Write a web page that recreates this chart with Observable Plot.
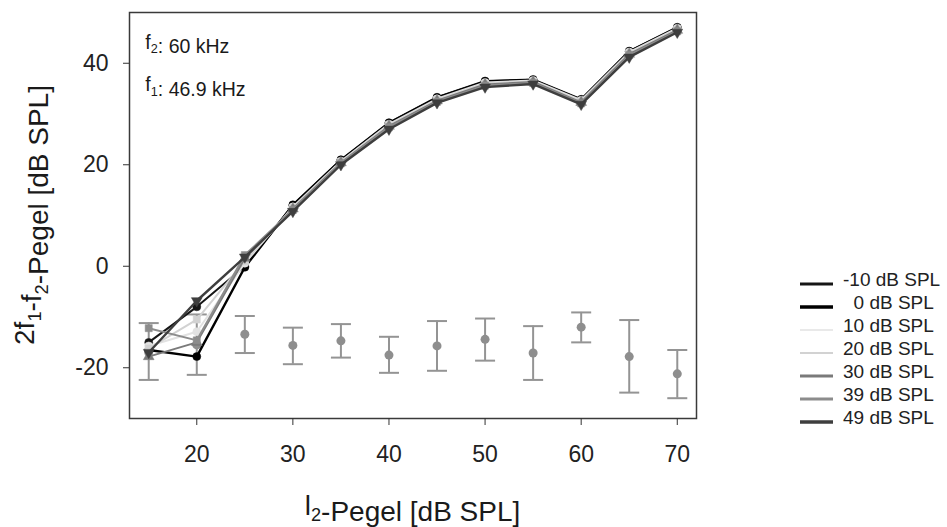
<!DOCTYPE html>
<html>
<head>
<meta charset="utf-8">
<script src="https://cdn.jsdelivr.net/npm/d3@7"></script>
<script src="https://cdn.jsdelivr.net/npm/@observablehq/plot@0.6"></script>
<style>
  html, body { margin: 0; padding: 0; background: #fff; }
  #wrap { position: relative; width: 947px; height: 527px; font-family: "Liberation Sans", Arial, sans-serif; }
  #legend { position: absolute; left: 800px; top: 268px; font-size: 19px; color: #222; }
  .row { position: relative; height: 23px; }
  .row svg { position: absolute; left: 0; top: 13px; }
  .row span { position: absolute; left: 43px; top: 1px; white-space: pre; }
</style>
</head>
<body>
<div id="wrap"></div>
<script>
// L2 levels (x)
const levels = [15, 20, 25, 30, 35, 40, 45, 50, 55, 60, 65, 70];
const xTicks = [20, 30, 40, 50, 60, 70];
const yTicks = [-20, 0, 20, 40];

// Series names (L1 offsets) and styles
const seriesLabels = ["-10 dB SPL", "\u20070 dB SPL", "10 dB SPL", "20 dB SPL", "30 dB SPL", "39 dB SPL", "49 dB SPL"];
const seriesColors = ["#161616", "#000000", "#e2e2e2", "#d2d2d2", "#7a7a7a", "#8c8c8c", "#3e3e3e"];

// DPOAE levels per series
const sM10 = [-15.0, -8.0, 0.0, 12.1, 21.0, 28.3, 33.3, 36.5, 36.8, 32.9, 42.4, 47.1];
const s0   = [-16.5, -17.8, -0.2, 12.0, 20.9, 28.2, 33.2, 36.4, 36.7, 32.8, 42.3, 47.0];
const s10  = [-15.7, -12.9, 0.6, 11.7, 20.7, 28.0, 33.0, 36.2, 36.6, 32.7, 42.2, 46.9];
const s20  = [-16.2, -10.5, 1.0, 11.5, 20.6, 27.8, 32.8, 36.0, 36.4, 32.5, 42.0, 46.7];
const s30  = [-17.8, -15.0, 1.6, 11.3, 20.4, 27.6, 32.6, 35.8, 36.3, 32.3, 41.8, 46.5];
const s39  = [-12.2, -14.6, 2.2, 11.1, 20.3, 27.4, 32.4, 35.6, 36.1, 32.1, 41.6, 46.3];
const s49  = [-17.0, -6.8, 1.8, 10.8, 20.0, 27.0, 32.2, 35.3, 35.9, 31.9, 41.2, 46.1];

// Noise floor mean and error range
const noiseMean = [-17.0, -15.5, -13.4, -15.6, -14.7, -17.5, -15.7, -14.4, -17.1, -12.0, -17.8, -21.2];
const noiseLow  = [-22.4, -21.4, -17.1, -19.3, -18.0, -21.0, -20.6, -18.6, -22.4, -15.0, -24.9, -26.0];
const noiseHigh = [-11.2, -9.5, -9.8, -12.1, -11.4, -13.9, -10.8, -10.3, -11.8, -9.1, -10.6, -16.5];

const seriesValues = [sM10, s0, s10, s20, s30, s39, s49];
const symbols = ["circle", "circle", "circle", "square", "triangle", "square", "triangle"];
const rotations = [0, 0, 0, 0, 0, 0, 180];
const widths = [2, 2.4, 2, 2, 2, 2, 2.4];
const legendWidths = [3, 3.5, 1.5, 2, 3, 3, 3.5];

const noise = levels.map((x, i) => ({x, m: noiseMean[i], lo: noiseLow[i], hi: noiseHigh[i]}));

const capSymbol = { draw(ctx) { ctx.moveTo(-10, 0); ctx.lineTo(10, 0); } };

const marks = [
  Plot.ruleX(noise, {x: "x", y1: "lo", y2: "hi", stroke: "#949494", strokeWidth: 2}),
  Plot.dot(noise, {x: "x", y: "lo", symbol: capSymbol, stroke: "#949494", strokeWidth: 2, fill: "none"}),
  Plot.dot(noise, {x: "x", y: "hi", symbol: capSymbol, stroke: "#949494", strokeWidth: 2, fill: "none"}),
  Plot.dot(noise, {x: "x", y: "m", r: 4.5, fill: "#8e8e8e", stroke: "none"})
];

seriesValues.forEach((vals, k) => {
  const data = levels.map((x, i) => ({x, y: vals[i]}));
  marks.push(Plot.line(data, {x: "x", y: "y", stroke: seriesColors[k], strokeWidth: widths[k]}));
  marks.push(Plot.dot(data, {x: "x", y: "y", symbol: symbols[k], rotate: rotations[k], r: 4, fill: seriesColors[k], stroke: seriesColors[k], strokeWidth: 0.5}));
});

const fmt = d => String(d);
marks.push(Plot.frame({stroke: "#3a3a3a", strokeWidth: 1.5}));
marks.push(Plot.axisX({ticks: xTicks, tickSize: 7, tickPadding: 20, fontSize: 23, label: null, stroke: "#333", tickFormat: fmt}));
marks.push(Plot.axisY({ticks: yTicks, tickSize: 6, tickPadding: 15, fontSize: 23, label: null, stroke: "#333", tickFormat: fmt}));

const svg = Plot.plot({
  width: 947,
  height: 527,
  marginLeft: 129,
  marginRight: 251,
  marginTop: 12,
  marginBottom: 109,
  style: {fontFamily: "Liberation Sans, Arial, sans-serif", color: "#222", background: "#fff"},
  x: {domain: [13, 72]},
  y: {domain: [-30, 50]},
  marks
});

document.getElementById("wrap").appendChild(svg);

// Text annotations with subscripts
const sel = d3.select(svg);
const xs = svg.scale("x"), ys = svg.scale("y");
const ff = "Liberation Sans, Arial, sans-serif";

function subText(g, x, y, parts, size, attrs = {}, subDrop = 0.25) {
  const t = g.append("text").attr("x", x).attr("y", y)
    .attr("font-size", size).attr("font-family", ff).attr("fill", "#1a1a1a")
    .attr("text-anchor", "start");
  Object.entries(attrs).forEach(([k, v]) => t.attr(k, v));
  parts.forEach(([s, sub]) => {
    if (sub) {
      t.append("tspan").attr("font-size", size * 0.65).attr("dy", size * subDrop).text(s);
      t.append("tspan").attr("dy", -size * subDrop).text("");
    } else {
      t.append("tspan").text(s);
    }
  });
  return t;
}

// f2 / f1 notes placed through the scales
subText(sel, xs.apply(14.7), ys.apply(42.8), [["f", false], ["2", true], [": 60 kHz", false]], 19.5);
subText(sel, xs.apply(14.7), ys.apply(34.5), [["f", false], ["1", true], [": 46.9 kHz", false]], 19.5);

// Axis labels
subText(sel, (129 + 696) / 2, 515, [["l", false], ["2", true], ["-Pegel [dB SPL]", false]], 28, {"text-anchor": "middle"}, 0.2);
subText(sel, 0, 0, [["2f", false], ["1", true], ["-f", false], ["2", true], ["-Pegel [dB SPL]", false]], 28,
  {"text-anchor": "middle", transform: "translate(34,215) rotate(-90)"});

// Legend (HTML)
const legend = d3.select("#wrap").append("div").attr("id", "legend");
seriesLabels.forEach((lab, k) => {
  const row = legend.append("div").attr("class", "row");
  const s = row.append("svg").attr("width", 34).attr("height", 6);
  s.append("line").attr("x1", 0).attr("x2", 33).attr("y1", 3).attr("y2", 3)
    .attr("stroke", seriesColors[k]).attr("stroke-width", legendWidths[k]);
  row.append("span").text(lab);
});
</script>
</body>
</html>
